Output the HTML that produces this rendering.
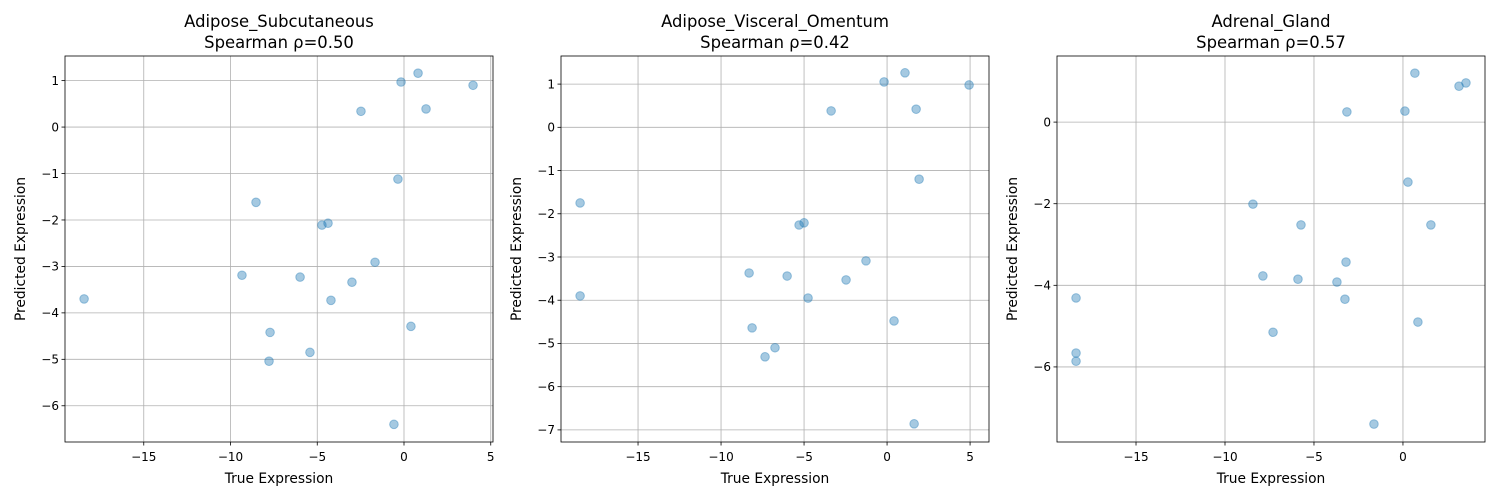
<!DOCTYPE html>
<html><head><meta charset="utf-8"><style>
body{margin:0;background:#fff;}
svg{display:block;font-family:"DejaVu Sans","Liberation Sans",sans-serif;}
</style></head><body>
<svg id="chart" width="1500" height="500" xmlns="http://www.w3.org/2000/svg"></svg>
<script>
const panelTitles = ["Adipose_Subcutaneous","Adipose_Visceral_Omentum","Adrenal_Gland"];
const panelRho = ["0.50","0.42","0.57"];
const xTicks = [-15,-10,-5,0,5];
const yTicks1 = [1,0,-1,-2,-3,-4,-5,-6];
const yTicks2 = [1,0,-1,-2,-3,-4,-5,-6,-7];
const yTicks3 = [0,-2,-4,-6];
const xTicks3 = [-15,-10,-5,0];
const trueX1 = [-18.44,-0.17,0.81,-2.48,1.27,3.98,-0.35,-8.53,-4.73,-4.38,-9.34,-5.99,-1.67,-3.00,-4.21,-7.72,0.40,-5.42,-7.78,-0.58];
const predY1 = [-3.70,0.97,1.16,0.34,0.39,0.90,-1.12,-1.62,-2.11,-2.07,-3.19,-3.23,-2.91,-3.34,-3.73,-4.42,-4.29,-4.85,-5.04,-6.40];
const trueX2 = [-18.49,-18.49,-0.18,1.08,-3.37,1.75,4.94,1.93,-5.30,-5.00,-8.31,-6.02,-1.27,-2.47,-4.76,-8.13,0.42,-6.75,-7.35,1.63];
const predY2 = [-1.75,-3.90,1.05,1.26,0.38,0.42,0.98,-1.20,-2.26,-2.21,-3.37,-3.44,-3.09,-3.53,-3.95,-4.64,-4.48,-5.10,-5.31,-6.86];
const trueX3 = [-18.37,-18.37,-18.37,0.67,-3.15,0.11,3.15,3.54,0.28,-8.43,-5.73,1.57,-7.87,-3.20,-5.90,-3.71,-3.26,-7.30,0.84,-1.63];
const predY3 = [-4.31,-5.66,-5.86,1.20,0.25,0.27,0.88,0.96,-1.47,-2.01,-2.52,-2.52,-3.77,-3.43,-3.85,-3.92,-4.34,-5.15,-4.90,-7.40];

const panels = [
 {x0:65,x1:493,xd:[-19.54,5.13],yd:[-6.78,1.53],xt:xTicks,yt:yTicks1,xs:trueX1,ys:predY1,ylx:21},
 {x0:561,x1:989,xd:[-19.64,6.14],yd:[-7.28,1.65],xt:xTicks,yt:yTicks2,xs:trueX2,ys:predY2,ylx:517},
 {x0:1057,x1:1485,xd:[-19.44,4.61],yd:[-7.84,1.62],xt:xTicks3,yt:yTicks3,xs:trueX3,ys:predY3,ylx:1013}
];
const Y0=56,Y1=442;
const svg=document.getElementById('chart');
const NS='http://www.w3.org/2000/svg';
function mk(tag,attrs,parent,text){const e=document.createElementNS(NS,tag);for(const k in attrs)e.setAttribute(k,attrs[k]);if(text!==undefined)e.textContent=text;parent.appendChild(e);return e;}
panels.forEach((p,i)=>{
 const g=mk('g',{},svg);
 
 
 const sx=v=>p.x0+(v-p.xd[0])/(p.xd[1]-p.xd[0])*(p.x1-p.x0);
 const sy=v=>Y1-(v-p.yd[0])/(p.yd[1]-p.yd[0])*(Y1-Y0);
 p.xt.forEach(t=>{const x=sx(t);
  const l=mk('line',{x1:x,x2:x,y1:Y0,y2:Y1,stroke:'#b0b0b0','stroke-width':0.8},g);
  
  mk('line',{x1:x,x2:x,y1:Y1,y2:Y1+3.5,stroke:'#000','stroke-width':0.8},g);
  const tx=mk('text',{x:x,y:Y1+19,'font-size':12,'text-anchor':'middle',fill:'#000'},g,t===0?'0':String(t).replace('-','\u2212'));
  
 });
 p.yt.forEach(t=>{const y=sy(t);
  const l=mk('line',{x1:p.x0,x2:p.x1,y1:y,y2:y,stroke:'#b0b0b0','stroke-width':0.8},g);
  
  mk('line',{x1:p.x0-3.5,x2:p.x0,y1:y,y2:y,stroke:'#000','stroke-width':0.8},g);
  const tx=mk('text',{x:p.x0-6,y:y+4.3,'font-size':12,'text-anchor':'end',fill:'#000'},g,t===0?'0':String(t).replace('-','\u2212'));
  
 });
 p.xs.forEach((v,j)=>{
  const c=mk('circle',{cx:sx(v),cy:sy(p.ys[j]),r:4.3,fill:'rgba(31,119,180,0.4)',stroke:'rgba(31,119,180,0.4)','stroke-width':1},g);
  
 });
 const fr=mk('rect',{x:p.x0,y:Y0,width:p.x1-p.x0,height:Y1-Y0,fill:'none',stroke:'#000','stroke-width':0.8},g);
 
 const cx=(p.x0+p.x1)/2;
 const t1=mk('text',{x:cx,y:27,'font-size':16.4,'text-anchor':'middle'},g,panelTitles[i]);
 
 const t2=mk('text',{x:cx,y:48,'font-size':16.4,'text-anchor':'middle'},g,'Spearman \u03c1='+panelRho[i]);
 
 const xl=mk('text',{x:cx,y:483,'font-size':13.8,'text-anchor':'middle'},g,'True Expression');
 
 const yl=mk('text',{x:p.ylx+4,y:249,'font-size':13.8,'text-anchor':'middle',transform:'rotate(-90 '+(p.ylx+4)+' 249)'},g,'Predicted Expression');
 
});
</script>
</body></html>
